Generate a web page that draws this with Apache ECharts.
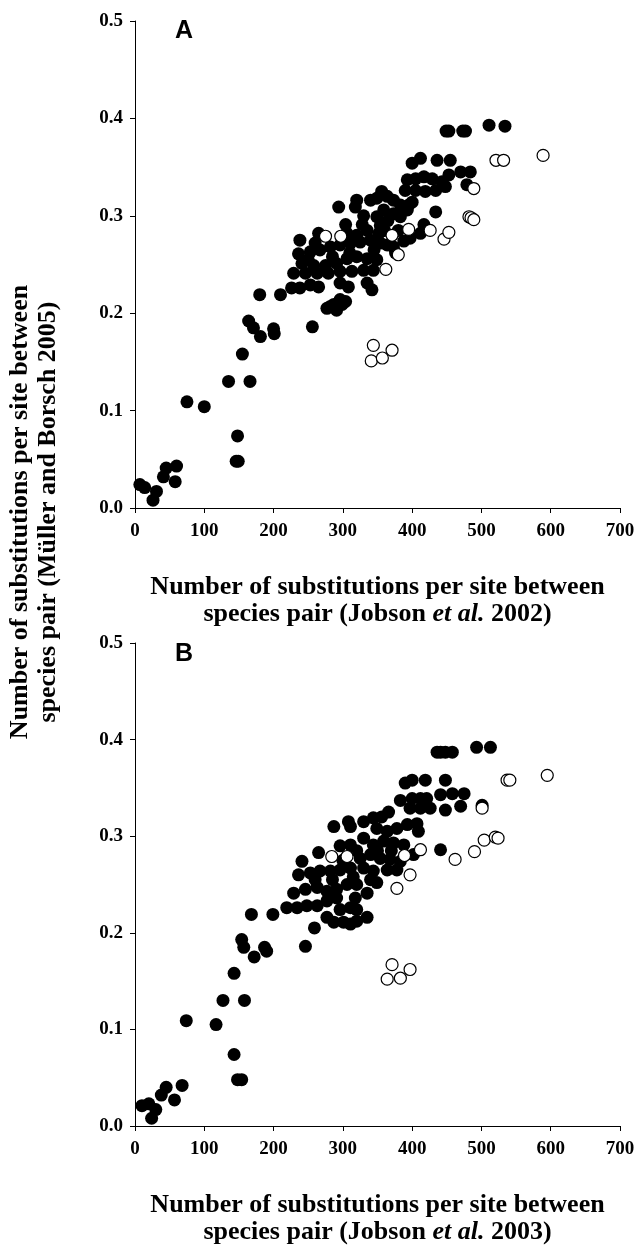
<!DOCTYPE html>
<html>
<head>
<meta charset="utf-8">
<script src="https://cdn.jsdelivr.net/npm/echarts@6/dist/echarts.min.js"></script>
<style>
  html,body{margin:0;padding:0;background:#fff;}
  #chart{width:638px;height:1247px;}
</style>
</head>
<body>
<div id="chart"></div>
<script>
// 刻度
var xTicks = [0, 700, 100];
var yTicks = [0, 0.5, 0.1];

// A 图 实心点 (Jobson 2002)
var filledA = [
  [7,0.024],[14,0.021],[26,0.008],[31,0.017],[41,0.032],[45,0.041],[58,0.027],[60,0.043],
  [75,0.109],[100,0.104],[135,0.130],[166,0.130],[155,0.158],
  [148,0.074],[146,0.048],[149,0.048],
  [164,0.192],[171,0.185],[181,0.176],[200,0.184],[201,0.179],[180,0.219],[210,0.219],[256,0.186],
  [226,0.226],[238,0.226],[253,0.229],[265,0.227],[296,0.231],[308,0.227],[335,0.231],[342,0.224],
  [277,0.205],[282,0.207],[287,0.209],[296,0.214],[299,0.209],[304,0.212],[291,0.203],
  [229,0.241],[246,0.241],[263,0.241],[279,0.241],[296,0.243],[313,0.243],[330,0.244],[344,0.244],
  [241,0.251],[258,0.249],[275,0.249],[291,0.251],[306,0.256],[320,0.258],[335,0.256],[349,0.255],
  [236,0.261],[253,0.263],[267,0.265],[282,0.268],[296,0.270],[311,0.272],[325,0.273],[340,0.275],
  [354,0.272],[364,0.270],[373,0.268],[376,0.262],
  [238,0.275],[265,0.282],[304,0.291],[306,0.282],[328,0.291],[335,0.285],[349,0.299],[354,0.290],[352,0.282],
  [417,0.291],[412,0.282],[397,0.277],[388,0.274],
  [294,0.309],[320,0.316],[318,0.309],[340,0.316],[349,0.318],
  [356,0.325],[364,0.320],[373,0.316],[383,0.311],[395,0.311],[400,0.314],
  [359,0.306],[373,0.302],[383,0.299],[393,0.306],[434,0.304],
  [390,0.326],[405,0.326],[419,0.325],[434,0.326],[448,0.330],
  [393,0.337],[405,0.338],[417,0.340],[429,0.338],[443,0.335],[479,0.332],
  [453,0.342],[470,0.345],[484,0.345],
  [400,0.354],[412,0.359],[436,0.357],[455,0.357],
  [449,0.387],[453,0.387],[473,0.387],[477,0.387],[511,0.393],[534,0.392],
  [320,0.280],[345,0.265],[360,0.285],[330,0.300],[310,0.262],[285,0.258],[365,0.295],[380,0.285],[260,0.272],[250,0.255]
];
// A 图 空心点
var openA = [
  [275,0.279],[297,0.279],[371,0.280],[395,0.286],[426,0.285],[446,0.276],[453,0.283],[362,0.245],[380,0.260],
  [482,0.299],[485,0.298],[489,0.296],[489,0.328],
  [521,0.357],[532,0.357],[589,0.362],
  [344,0.167],[341,0.151],[357,0.154],[371,0.162]
];

// B 图 实心点 (Jobson 2003)
var filledB = [
  [10,0.021],[20,0.023],[24,0.008],[30,0.017],[38,0.032],[45,0.040],[57,0.027],[68,0.042],
  [74,0.109],[117,0.105],[127,0.130],[158,0.130],[143,0.158],
  [143,0.074],[148,0.048],[154,0.048],
  [154,0.193],[157,0.185],[187,0.185],[190,0.181],[172,0.175],[168,0.219],[199,0.219],
  [246,0.186],[259,0.205],
  [277,0.216],[287,0.211],[301,0.211],[311,0.209],[320,0.212],[335,0.216],
  [219,0.226],[234,0.226],[248,0.228],[263,0.228],[277,0.233],[291,0.236],[318,0.236],[296,0.224],[311,0.226],[320,0.224],
  [229,0.241],[246,0.245],[263,0.247],[277,0.243],[291,0.245],[306,0.250],[320,0.250],[335,0.241],[349,0.252],
  [236,0.260],[253,0.262],[267,0.264],[282,0.264],[296,0.265],[311,0.267],[330,0.267],[344,0.264],[364,0.265],[378,0.265],
  [241,0.274],[265,0.283],[325,0.277],[340,0.281],[354,0.277],[368,0.276],[383,0.274],[402,0.281],
  [296,0.290],[311,0.291],[330,0.298],[344,0.291],[359,0.295],[373,0.293],[388,0.291],
  [349,0.308],[364,0.305],[378,0.308],[393,0.312],[407,0.313],[409,0.305],
  [287,0.310],[308,0.315],[311,0.310],[330,0.315],[344,0.319],[356,0.320],[366,0.325],
  [441,0.286],
  [397,0.329],[412,0.329],[426,0.329],[448,0.327],[470,0.331],[501,0.332],
  [383,0.337],[400,0.339],[412,0.339],[421,0.339],[441,0.343],[458,0.344],[475,0.344],
  [390,0.355],[400,0.358],[419,0.358],[448,0.358],
  [436,0.387],[441,0.387],[448,0.387],[458,0.387],[493,0.392],[513,0.392],
  [300,0.275],[320,0.285],[285,0.255],[350,0.285],[340,0.255],[260,0.255],[370,0.285],[315,0.258]
];
// B 图 空心点
var openB = [
  [284,0.279],[306,0.279],[389,0.280],[412,0.286],[397,0.260],[378,0.246],
  [462,0.276],[490,0.284],[504,0.296],[520,0.299],[524,0.298],
  [501,0.329],
  [537,0.358],[541,0.358],[595,0.363],
  [371,0.167],[397,0.162],[364,0.152],[383,0.153]
];

var xTitleA = 'Number of substitutions per site between\nspecies pair (Jobson {i|et al.} 2002)';
var xTitleB = 'Number of substitutions per site between\nspecies pair (Jobson {i|et al.} 2003)';
var yTitle = 'Number of substitutions per site between\nspecies pair (Müller and Borsch 2005)';

(function () {
  var myChart = echarts.init(document.getElementById('chart'));
  var serif = '"Liberation Serif", "Times New Roman", serif';

  function xAxisOf(gridIndex, title) {
    return {
      gridIndex: gridIndex,
      type: 'value',
      min: xTicks[0], max: xTicks[1], interval: xTicks[2],
      axisLine: { show: true, onZero: false, lineStyle: { color: '#000', width: 1 } },
      axisTick: { show: true, inside: false, length: 5, lineStyle: { color: '#000' } },
      splitLine: { show: false },
      axisLabel: { color: '#000', fontSize: 19, fontWeight: 'bold', fontFamily: serif, margin: 14 },
      name: title,
      nameLocation: 'middle',
      nameGap: 66,
      nameTextStyle: {
        color: '#000', fontSize: 26, fontWeight: 'bold', fontFamily: serif, lineHeight: 27,
        rich: { i: { fontStyle: 'italic', fontWeight: 'bold', fontSize: 26, fontFamily: serif, color: '#000' } }
      }
    };
  }
  function yAxisOf(gridIndex) {
    return {
      gridIndex: gridIndex,
      type: 'value',
      min: yTicks[0], max: yTicks[1], interval: yTicks[2],
      axisLine: { show: true, lineStyle: { color: '#000', width: 1 } },
      axisTick: { show: true, inside: false, length: 5, lineStyle: { color: '#000' } },
      splitLine: { show: false },
      axisLabel: {
        color: '#000', fontSize: 19, fontWeight: 'bold', fontFamily: serif, margin: 12,
        formatter: function (v) { return v.toFixed(1); }
      }
    };
  }
  // 实心圆
  function filled(idx, data) {
    return { type: 'scatter', xAxisIndex: idx, yAxisIndex: idx, data: data, symbol: 'circle', symbolSize: 13,
      itemStyle: { color: '#000', opacity: 1 }, z: 2, silent: true };
  }
  // 空心圆 画在上面
  function open(idx, data) {
    return { type: 'scatter', xAxisIndex: idx, yAxisIndex: idx, data: data, symbol: 'circle', symbolSize: 12,
      itemStyle: { color: '#fff', borderColor: '#000', borderWidth: 1.2, opacity: 1 }, z: 3, silent: true };
  }

  var option = {
    animation: false,
    backgroundColor: '#fff',
    grid: [
      { left: 135, top: 21, width: 485, height: 487 },
      { left: 135, top: 643, width: 485, height: 487 }
    ],
    xAxis: [xAxisOf(0, xTitleA), xAxisOf(1, xTitleB)],
    yAxis: [yAxisOf(0), yAxisOf(1)],
    series: [filled(0, filledA), open(0, openA), filled(1, filledB), open(1, openB)],
    graphic: [
      // 共用的纵轴标题
      { type: 'text', x: 34, y: 512, rotation: Math.PI / 2,
        style: { text: yTitle, fill: '#000', textAlign: 'center', textVerticalAlign: 'middle',
          font: 'bold 26px ' + serif, lineHeight: 28 } },
      { type: 'text', x: 184, y: 31,
        style: { text: 'A', fill: '#000', textAlign: 'center', textVerticalAlign: 'middle',
          font: 'bold 25px "Liberation Sans", Arial, sans-serif' } },
      { type: 'text', x: 184, y: 654,
        style: { text: 'B', fill: '#000', textAlign: 'center', textVerticalAlign: 'middle',
          font: 'bold 25px "Liberation Sans", Arial, sans-serif' } }
    ]
  };

  myChart.setOption(option);

  window.addEventListener('resize', function () {
    myChart.resize();
  });
})();
</script>
</body>
</html>
